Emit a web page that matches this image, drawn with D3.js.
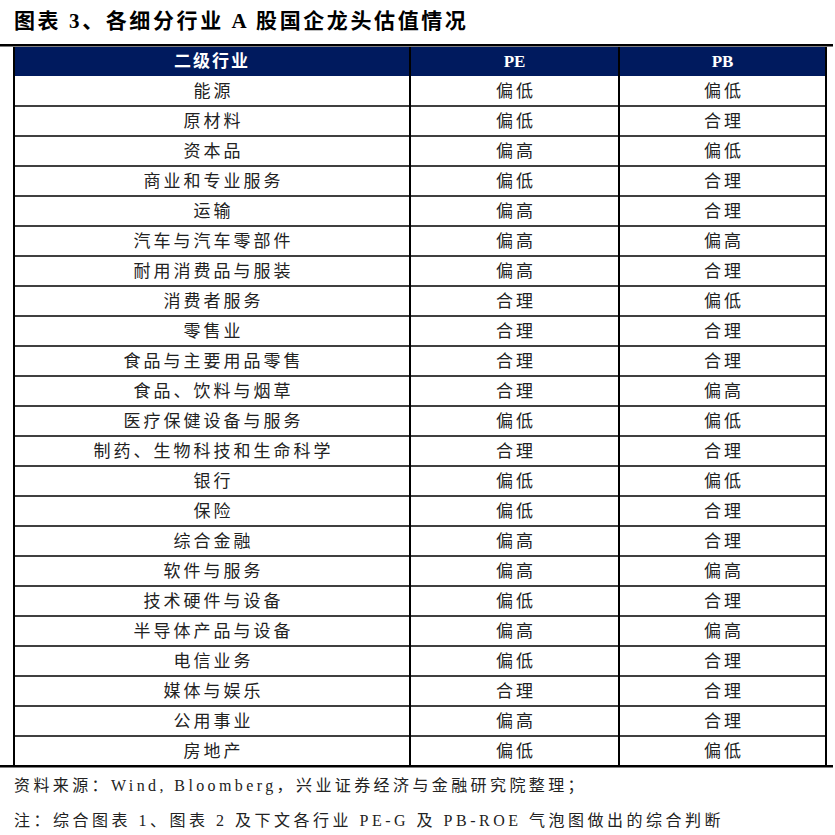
<!DOCTYPE html>
<html><head><meta charset="utf-8">
<script src="https://cdn.jsdelivr.net/npm/d3@7"></script>
<style>body{margin:0;background:#fff}</style>
</head><body>
<svg id="chart" width="835" height="835"></svg>
<script>
const industries = ["能源","原材料","资本品","商业和专业服务","运输","汽车与汽车零部件","耐用消费品与服装","消费者服务","零售业","食品与主要用品零售","食品、饮料与烟草","医疗保健设备与服务","制药、生物科技和生命科学","银行","保险","综合金融","软件与服务","技术硬件与设备","半导体产品与设备","电信业务","媒体与娱乐","公用事业","房地产"];
const pe = ["偏低","偏低","偏高","偏低","偏高","偏高","偏高","合理","合理","合理","合理","偏低","合理","偏低","偏低","偏高","偏高","偏低","偏高","偏低","合理","偏高","偏低"];
const pb = ["偏低","合理","偏低","合理","合理","偏高","合理","偏低","合理","合理","偏高","偏低","合理","偏低","合理","合理","偏高","合理","偏高","合理","合理","合理","偏低"];
const headers = ["二级行业","PE","PB"];

const font = "'Liberation Serif','Noto Sans CJK SC',serif";
const svg = d3.select('#chart');
const edges = [14, 410, 619, 826];
const y = d3.scaleBand().domain(d3.range(industries.length)).range([76, 766]);

svg.append('text').attr('x', 14).attr('y', 28).attr('font-family', font)
  .attr('font-weight', 'bold').attr('font-size', 21).attr('letter-spacing', 2.6).attr('fill', '#000')
  .text('图表 3、各细分行业 A 股国企龙头估值情况');
svg.append('rect').attr('x', 0).attr('y', 44).attr('width', 833).attr('height', 2.5).attr('fill', '#000');

svg.append('rect').attr('x', 14).attr('y', 47).attr('width', 812).attr('height', 29).attr('fill', '#001a5e');
headers.forEach((h, i) => {
  svg.append('text').attr('x', (edges[i] + edges[i + 1]) / 2).attr('y', 67)
    .attr('text-anchor', 'middle').attr('font-family', font).attr('font-weight', 'bold')
    .attr('font-size', 17).attr('letter-spacing', i === 0 ? 2 : 0).attr('fill', '#fff').text(h);
});
[410, 619].forEach(x => svg.append('line').attr('x1', x).attr('x2', x).attr('y1', 47).attr('y2', 76)
  .attr('stroke', '#fff').attr('stroke-width', 1.5));

const rows = svg.append('g');
const cols = [industries, pe, pb];
industries.forEach((d, r) => {
  cols.forEach((c, i) => {
    rows.append('text').attr('x', (edges[i] + edges[i + 1]) / 2 + 1.5).attr('y', y(r) + y.bandwidth() / 2 + 6)
      .attr('text-anchor', 'middle').attr('font-family', font).attr('font-size', 17)
      .attr('letter-spacing', 3).attr('fill', '#222').text(c[r]);
  });
  if (r > 0) rows.append('line').attr('x1', 14).attr('x2', 826).attr('y1', y(r)).attr('y2', y(r))
    .attr('stroke', '#000').attr('stroke-width', 1.5);
});
edges.forEach(x => rows.append('line').attr('x1', x).attr('x2', x).attr('y1', 47).attr('y2', 766)
  .attr('stroke', '#000').attr('stroke-width', 2));
svg.append('rect').attr('x', 0).attr('y', 765).attr('width', 833).attr('height', 2.5).attr('fill', '#000');

svg.append('text').attr('x', 14).attr('y', 791).attr('font-family', font).attr('font-size', 16)
  .attr('letter-spacing', 3.4).attr('fill', '#222')
  .text('资料来源：Wind, Bloomberg，兴业证券经济与金融研究院整理；');
svg.append('text').attr('x', 14).attr('y', 826).attr('font-family', font).attr('font-size', 16)
  .attr('letter-spacing', 3.5).attr('fill', '#222')
  .text('注：综合图表 1、图表 2 及下文各行业 PE-G 及 PB-ROE 气泡图做出的综合判断');
</script>
</body></html>
